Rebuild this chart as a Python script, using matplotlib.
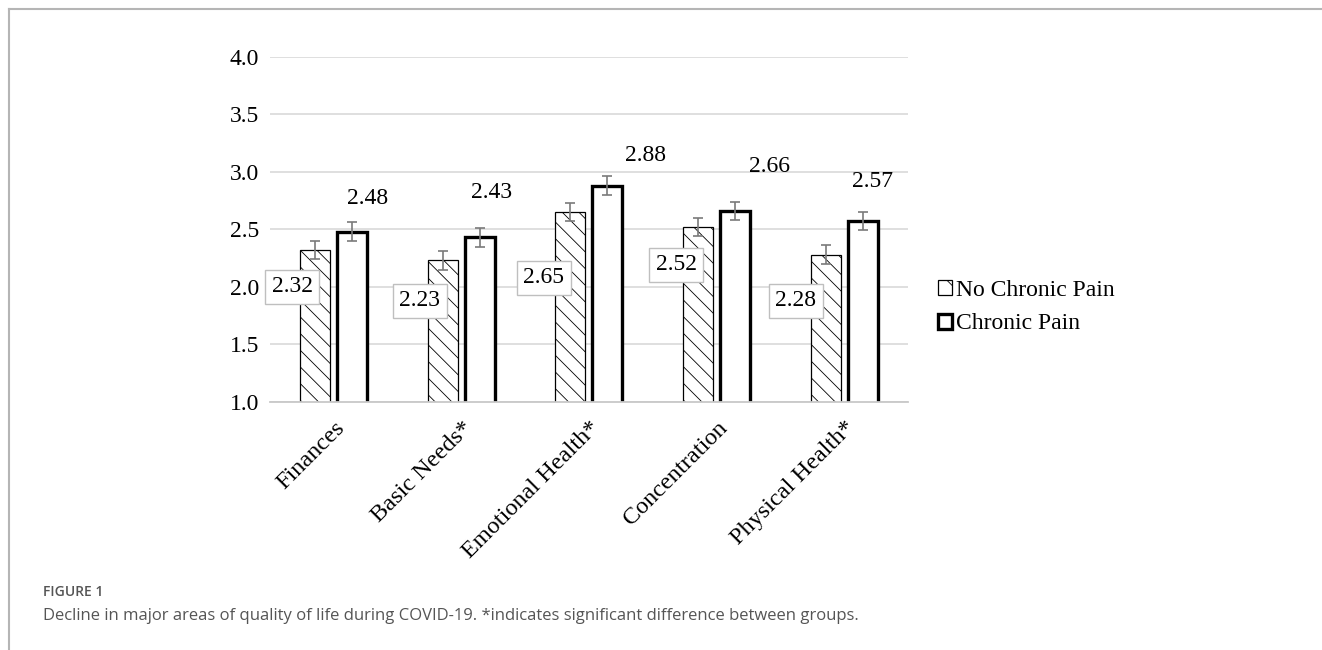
import numpy as np
import matplotlib.pyplot as plt
from matplotlib.lines import Line2D
from matplotlib.patches import Patch

categories = ["Finances", "Basic Needs*", "Emotional Health*", "Concentration", "Physical Health*"]
no_pain = [2.32, 2.23, 2.65, 2.52, 2.28]
pain = [2.48, 2.43, 2.88, 2.66, 2.57]
no_pain_err = [0.08, 0.08, 0.08, 0.08, 0.08]
pain_err = [0.08, 0.08, 0.08, 0.08, 0.08]
series_names = ["No Chronic Pain", "Chronic Pain"]

# where Excel left the data labels (offset from bar centre, label height)
no_pain_lab_dx = [-0.18, -0.18, -0.21, -0.17, -0.235]
no_pain_lab_y = [2.00, 1.88, 2.08, 2.19, 1.88]
pain_lab_dx = [0.12, 0.09, 0.30, 0.27, 0.08]
pain_lab_y = [2.77, 2.82, 3.14, 3.05, 2.92]

serif = "Liberation Serif"
plt.rcParams["hatch.linewidth"] = 0.6
plt.rcParams["hatch.color"] = "#444444"

fig = plt.figure(figsize=(13.22, 6.5), dpi=100)
ax = fig.add_axes([0.2042, 0.3818, 0.4826, 0.5308])

x = np.arange(len(categories))
w = 0.235
off = 0.145

ax.bar(x - off, no_pain, w, color="white", edgecolor="black", linewidth=0.9,
       hatch="\\\\", zorder=2, label=series_names[0])
ax.bar(x + off, pain, w, color="white", edgecolor="black", linewidth=2.4,
       zorder=2, label=series_names[1])
ax.errorbar(x - off, no_pain, yerr=no_pain_err, fmt="none", ecolor="#7a7a7a",
            elinewidth=1.2, capsize=3.3, capthick=1.2, zorder=3)
ax.errorbar(x + off, pain, yerr=pain_err, fmt="none", ecolor="#7a7a7a",
            elinewidth=1.2, capsize=3.3, capthick=1.2, zorder=3)

for i in range(len(categories)):
    ax.text(x[i] - off + no_pain_lab_dx[i], no_pain_lab_y[i], f"{no_pain[i]:.2f}",
            ha="center", va="center", fontsize=17, family=serif, zorder=5,
            bbox=dict(boxstyle="square,pad=0.28", facecolor="white",
                      edgecolor="#bfbfbf", linewidth=1))
    ax.text(x[i] + off + pain_lab_dx[i], pain_lab_y[i], f"{pain[i]:.2f}",
            ha="center", va="center", fontsize=17, family=serif, zorder=5)

ax.set_xlim(-0.5, len(categories) - 0.5)
ax.set_ylim(1.0, 4.0)
ax.set_yticks(np.arange(1.0, 4.01, 0.5))
ax.set_yticklabels([f"{v:.1f}" for v in np.arange(1.0, 4.01, 0.5)],
                   fontsize=17, family=serif)
ax.set_xticks(x)
ax.set_xticklabels(categories, rotation=45, ha="right", rotation_mode="anchor",
                   fontsize=17.5, family=serif)
ax.tick_params(axis="both", length=0)
ax.tick_params(axis="y", pad=8)
ax.tick_params(axis="x", pad=11)
ax.grid(axis="y", color="#d9d9d9", linewidth=1.2, zorder=0)
ax.set_axisbelow(True)
for s in ["top", "right", "left"]:
    ax.spines[s].set_visible(False)
ax.spines["bottom"].set_color("#c8c8c8")
ax.spines["bottom"].set_linewidth(1.3)
ax.spines["bottom"].set_zorder(4)

handles = [Patch(facecolor="white", edgecolor="black", linewidth=0.9, hatch="\\"),
           Patch(facecolor="white", edgecolor="black", linewidth=2.4)]
fig.legend(handles, series_names, loc="center left",
           bbox_to_anchor=(938 / 1322, 1 - 307 / 650), frameon=False,
           prop={"family": serif, "size": 17}, handlelength=0.6, handleheight=0.6,
           handletextpad=0.15, labelspacing=0.55, borderpad=0, borderaxespad=0)

# page frame and caption
fig.add_artist(Line2D([9 / 1322, 1], [1 - 9 / 650, 1 - 9 / 650],
                      color="#b5b5b5", linewidth=1.5))
fig.add_artist(Line2D([9 / 1322, 9 / 1322], [0, 1 - 9 / 650],
                      color="#b5b5b5", linewidth=1.5))
fig.text(43 / 1322, 1 - 592 / 650, "FIGURE 1", fontsize=10, color="#555555",
         family="Open Sans", fontweight="semibold", va="center")
fig.text(43 / 1322, 1 - 616 / 650,
         "Decline in major areas of quality of life during COVID-19. "
         "*indicates significant difference between groups.",
         fontsize=12, color="#555555", family="Open Sans", va="center")

fig.savefig("out.png", dpi=100, facecolor="white")
